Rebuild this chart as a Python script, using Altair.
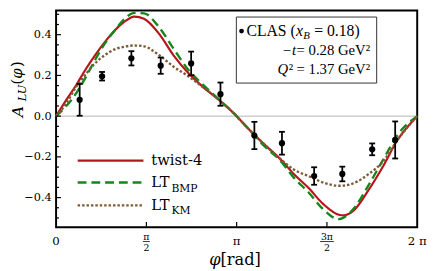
import math
import altair as alt
import pandas as pd

PI = math.pi
SERIF = "DejaVu Serif"
BOXFONT = "Liberation Serif"

# ---------------- data ----------------
# CLAS points
phi_data = [0.41, 0.80, 1.31, 1.82, 2.35, 2.86, 3.45, 3.93, 4.49, 4.98, 5.50, 5.90]
alu_data = [0.080, 0.196, 0.284, 0.248, 0.259, 0.108, -0.095, -0.133, -0.294, -0.284, -0.163, -0.117]
alu_err = [0.078, 0.021, 0.035, 0.040, 0.058, 0.057, 0.067, 0.056, 0.043, 0.036, 0.029, 0.091]

# model curves
phi_curve = [0.0, 0.17, 0.34, 0.51, 0.68, 0.85, 1.02, 1.19, 1.36, 1.53, 1.79, 2.04, 2.30, 2.55,
             2.81, 3.07, 3.37, 3.63, 3.88, 4.14, 4.39, 4.65, 4.92, 5.01, 5.18, 5.43, 5.69, 5.94, 6.2832]
twist4 = [0.0, 0.076, 0.148, 0.228, 0.300, 0.365, 0.421, 0.464, 0.489, 0.478, 0.405, 0.300, 0.212, 0.145,
          0.085, 0.020, -0.069, -0.141, -0.205, -0.285, -0.352, -0.432, -0.484, -0.487, -0.463, -0.366,
          -0.246, -0.117, 0.0]
lt_bmp = [0.0, 0.047, 0.108, 0.188, 0.277, 0.357, 0.421, 0.477, 0.507, 0.505, 0.437, 0.333, 0.228, 0.156,
          0.088, 0.020, -0.069, -0.149, -0.212, -0.303, -0.374, -0.458, -0.506, -0.497, -0.454, -0.342,
          -0.214, -0.093, 0.0]
lt_km = [0.0, 0.060, 0.140, 0.204, 0.260, 0.300, 0.328, 0.341, 0.347, 0.343, 0.300, 0.244, 0.196, 0.143,
         0.086, 0.019, -0.069, -0.140, -0.205, -0.263, -0.294, -0.326, -0.342, -0.341, -0.329, -0.286,
         -0.222, -0.117, 0.0]

# axis ticks / labels
y_major = [-0.4, -0.2, 0.0, 0.2, 0.4]
y_minor = [-0.5, -0.45, -0.35, -0.3, -0.25, -0.15, -0.1, -0.05, 0.05, 0.1, 0.15, 0.25, 0.3, 0.35, 0.45, 0.5]
x_ticks = [PI / 2, PI, 3 * PI / 2]
x_label_pos = [0.0, PI, 2 * PI]
x_label_txt = ["0", "π", "2 π"]
x_frac_pos = [PI / 2, 3 * PI / 2]
x_frac_num = ["π", "3π"]
x_frac_den = ["2", "2"]

W, H = 368, 221
xs = alt.Scale(domain=[0, 2 * PI], nice=False, zero=False)
ys = alt.Scale(domain=[-0.546, 0.519], nice=False, zero=False)
Y_AXIS = alt.Axis(values=y_major, format=".1f", labelFont=SERIF, labelFontSize=11.5,
                  labelColor="black", labelPadding=5, ticks=False, tickSize=0, domain=False,
                  grid=False, title=None)
ONE = pd.DataFrame({"a": [0]})


def X(f):
    return alt.X(f, type="quantitative", scale=xs, axis=None)


def Y(f):
    return alt.Y(f, type="quantitative", scale=ys, axis=Y_AXIS)


def txt(s, x, y, size, style="normal", align="left", angle=None, font=SERIF):
    kw = dict(text=s, font=font, fontSize=size, fontStyle=style, align=align,
              baseline="alphabetic", color="black")
    if angle is not None:
        kw["angle"] = angle
    return alt.Chart(ONE).mark_text(**kw).encode(x=alt.value(x), y=alt.value(y))


# zero line (also carries the y axis labels)
zero = alt.Chart(pd.DataFrame({"v": [0.0]})).mark_rule(color="#b4b4b4", strokeWidth=1).encode(
    y=Y("v"))

curves = pd.DataFrame({"phi": phi_curve, "t4": twist4, "bmp": lt_bmp, "km": lt_km})
RED, GREEN, BROWN = "#b8141c", "#14871a", "#7d5a36"
l_t4 = alt.Chart(curves).mark_line(color=RED, strokeWidth=2.2, interpolate="monotone").encode(
    x=X("phi"), y=Y("t4"))
l_bmp = alt.Chart(curves).mark_line(color=GREEN, strokeWidth=2.4, strokeDash=[9, 5],
                                    interpolate="monotone").encode(x=X("phi"), y=Y("bmp"))
l_km = alt.Chart(curves).mark_line(color=BROWN, strokeWidth=2.4, strokeDash=[2.5, 2],
                                   interpolate="monotone").encode(x=X("phi"), y=Y("km"))

pts = pd.DataFrame({"phi": phi_data, "alu": alu_data,
                    "lo": [a - e for a, e in zip(alu_data, alu_err)],
                    "hi": [a + e for a, e in zip(alu_data, alu_err)]})
ebar = alt.Chart(pts).mark_rule(color="black", strokeWidth=1.8).encode(
    x=X("phi"), y=Y("lo"), y2=alt.Y2("hi"))
cap_lo = alt.Chart(pts).mark_tick(orient="horizontal", color="black", thickness=1.8, size=6,
                                  opacity=1).encode(x=X("phi"), y=Y("lo"))
cap_hi = alt.Chart(pts).mark_tick(orient="horizontal", color="black", thickness=1.8, size=6,
                                  opacity=1).encode(x=X("phi"), y=Y("hi"))
dots = alt.Chart(pts).mark_circle(color="black", size=40, opacity=1).encode(x=X("phi"), y=Y("alu"))

# inward ticks
t_major = alt.Chart(pd.DataFrame({"v": y_major})).mark_tick(
    orient="horizontal", color="black", thickness=1.2, size=5, opacity=1).encode(
    y=Y("v"), x=alt.value(2.5))
t_minor = alt.Chart(pd.DataFrame({"v": y_minor})).mark_tick(
    orient="horizontal", color="black", thickness=1.2, size=3, opacity=1).encode(
    y=Y("v"), x=alt.value(1.5))
t_x = alt.Chart(pd.DataFrame({"v": x_ticks})).mark_tick(
    orient="vertical", color="black", thickness=1.2, size=5, opacity=1).encode(
    x=X("v"), y=alt.value(H - 3))

# x tick labels
xl = alt.Chart(pd.DataFrame({"p": x_label_pos, "t": x_label_txt})).mark_text(
    font=SERIF, fontSize=12, align="center", baseline="alphabetic", color="black").encode(
    x=X("p"), y=alt.value(239), text="t:N")
frac = pd.DataFrame({"p": x_frac_pos, "n": x_frac_num, "d": x_frac_den})
xn = alt.Chart(frac).mark_text(font=SERIF, fontSize=9.5, align="center", baseline="alphabetic",
                               color="black").encode(x=X("p"), y=alt.value(233.5), text="n:N")
xd = alt.Chart(frac).mark_text(font=SERIF, fontSize=9.5, align="center", baseline="alphabetic",
                               color="black").encode(x=X("p"), y=alt.value(245.5), text="d:N")
bar1 = alt.Chart(frac.iloc[[0]]).mark_rule(color="black", strokeWidth=0.8, xOffset=-3.5,
                                           x2Offset=3.5).encode(
    x=X("p"), x2=alt.X2("p"), y=alt.value(235.5))
bar2 = alt.Chart(frac.iloc[[1]]).mark_rule(color="black", strokeWidth=0.8, xOffset=-7,
                                           x2Offset=7).encode(
    x=X("p"), x2=alt.X2("p"), y=alt.value(235.5))

# axis titles
xt1 = txt("φ", 156, 259, 16.5, style="italic")
xt2 = txt("[rad]", 167.5, 259, 16.5)
yt1 = txt("A", -34, 108.7, 16, style="italic", angle=270)
yt2 = txt("LU", -31, 92.5, 11.5, style="italic", angle=270)
yt3 = txt("(", -35, 75.5, 15, angle=270)
yt4 = txt("φ", -35, 69.5, 15, style="italic", angle=270)
yt5 = txt(")", -35, 57.5, 15, angle=270)

# legend (lower left)
leg_t4 = alt.Chart(ONE).mark_rule(color=RED, strokeWidth=2.2).encode(
    x=alt.value(22), x2=alt.value(89), y=alt.value(153))
leg_bmp = alt.Chart(ONE).mark_rule(color=GREEN, strokeWidth=2.4, strokeDash=[9, 5]).encode(
    x=alt.value(22), x2=alt.value(89), y=alt.value(175.3))
leg_km = alt.Chart(ONE).mark_rule(color=BROWN, strokeWidth=2.4, strokeDash=[2.5, 2]).encode(
    x=alt.value(22), x2=alt.value(89), y=alt.value(198.7))
lg1 = txt("twist-4", 97, 157.5, 15)
lg2 = txt("LT", 97, 179.5, 15)
lg3 = txt("BMP", 117.5, 184.5, 11)
lg4 = txt("LT", 97, 203.5, 15)
lg5 = txt("KM", 117.5, 207.5, 11)

# info box
box = alt.Chart(ONE).mark_rect(fill="white", stroke="#333333", strokeWidth=1).encode(
    x=alt.value(183.7), x2=alt.value(326.7), y=alt.value(6.7), y2=alt.value(74))
bullet = alt.Chart(ONE).mark_circle(color="black", size=24, opacity=1).encode(
    x=alt.value(189), y=alt.value(21))
b1 = txt("CLAS (", 194, 25.7, 16, font=BOXFONT)
b2 = txt("x", 244.5, 25.7, 16, style="italic", font=BOXFONT)
b3 = txt("B", 252, 29.5, 11, style="italic", font=BOXFONT)
b4 = txt("= 0.18)", 263, 25.7, 16, font=BOXFONT)
b5 = txt("−", 239.5, 45, 15, align="right", font=BOXFONT)
b6 = txt("t", 244.5, 45, 15, style="italic", align="right", font=BOXFONT)
b7 = txt("= 0.28 GeV²", 320, 45, 15, align="right", font=BOXFONT)
b8 = txt("Q", 236.5, 65, 15, style="italic", align="right", font=BOXFONT)
b9 = txt("²", 241.5, 65, 15, align="right", font=BOXFONT)
b10 = txt("= 1.37 GeV²", 320, 65, 15, align="right", font=BOXFONT)

chart = alt.layer(
    zero, l_t4, l_bmp, l_km, ebar, cap_lo, cap_hi, dots,
    t_major, t_minor, t_x, xl, xn, xd, bar1, bar2,
    xt1, xt2, yt1, yt2, yt3, yt4, yt5,
    leg_t4, leg_bmp, leg_km, lg1, lg2, lg3, lg4, lg5,
    box, bullet, b1, b2, b3, b4, b5, b6, b7, b8, b9, b10,
).properties(
    width=W, height=H,
    autosize=alt.AutoSizeParams(type="none"),
    padding={"left": 49, "top": 0, "right": 11, "bottom": 42},
).configure_view(stroke="black", strokeWidth=2)

chart.save("out.html", embed_options={"renderer": "svg", "actions": False})
